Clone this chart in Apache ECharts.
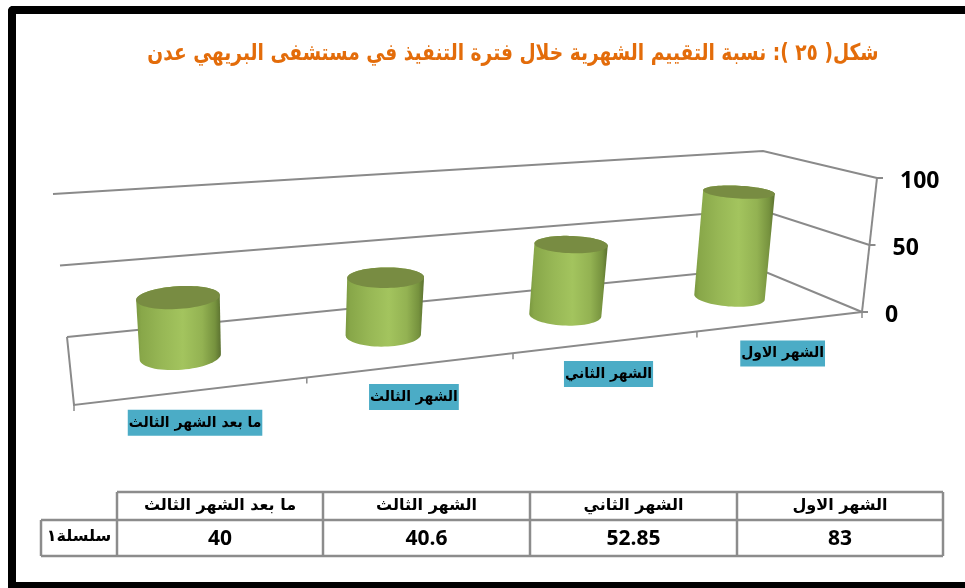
<!DOCTYPE html>
<html><head><meta charset="utf-8">
<style>html,body{margin:0;padding:0;background:#fff}#main{width:965px;height:588px}</style>
<script src="https://cdn.jsdelivr.net/npm/echarts@6/dist/echarts.min.js"></script>
</head><body><div id="main" dir="rtl"></div>
<script>
var titleText = 'شكل( ٢٥ ): نسبة التقييم الشهرية خلال فترة التنفيذ في مستشفى البريهي عدن';
var categories = ['الشهر الاول', 'الشهر الثاني', 'الشهر الثالث', 'ما بعد الشهر الثالث'];
var seriesValues = [83, 52.85, 40.6, 40];
var valueLabels = ['83', '52.85', '40.6', '40'];
var seriesName = 'سلسلة١';
var yTicks = [0, 50, 100];

var AR = '"DejaVu Sans"', NUM = '"Open Sans"';
var GRID = {left: 74, top: 178, width: 788, height: 134};
var floorC = [[74, 405], [862, 312], [756, 268], [67, 337]];
var topC = [[58, 239], [877, 178], [763, 151], [53, 194]];
var GRIDLINE = '#8a8a8a';

function homography(c) {
  var x0=c[0][0],y0=c[0][1],x1=c[1][0],y1=c[1][1],x2=c[2][0],y2=c[2][1],x3=c[3][0],y3=c[3][1];
  var dx1=x1-x2,dx2=x3-x2,sx=x0-x1+x2-x3,dy1=y1-y2,dy2=y3-y2,sy=y0-y1+y2-y3;
  var den=dx1*dy2-dx2*dy1;
  var g=(sx*dy2-dx2*sy)/den,h=(dx1*sy-sx*dy1)/den;
  var a=x1-x0+g*x1,b=x3-x0+h*x3,d=y1-y0+g*y1,e=y3-y0+h*y3;
  return function(u,v){var w=g*u+h*v+1;return [(a*u+b*v+x0)/w,(d*u+e*v+y0)/w];};
}
var Hf = homography(floorC), Ht = homography(topC);
function proj(u, v, d) {
  var a = Hf(u, d), b = Ht(u, d);
  return [a[0] + (b[0]-a[0])*v, a[1] + (b[1]-a[1])*v];
}
function norm(p) {
  return [(p[0]-GRID.left)/GRID.width, (GRID.top+GRID.height-p[1])/GRID.height];
}
function hull(pts) {
  pts = pts.slice().sort(function(a,b){return a[0]-b[0]||a[1]-b[1];});
  function cross(o,a,b){return (a[0]-o[0])*(b[1]-o[1])-(a[1]-o[1])*(b[0]-o[0]);}
  var lo=[],up=[],i;
  for(i=0;i<pts.length;i++){while(lo.length>1&&cross(lo[lo.length-2],lo[lo.length-1],pts[i])<=0)lo.pop();lo.push(pts[i]);}
  for(i=pts.length-1;i>=0;i--){while(up.length>1&&cross(up[up.length-2],up[up.length-1],pts[i])<=0)up.pop();up.push(pts[i]);}
  lo.pop();up.pop();return lo.concat(up);
}
function line(points, w) {
  return {type:'polyline',shape:{points:points},style:{stroke:GRIDLINE,lineWidth:w||2,fill:null},silent:true};
}

function renderWalls(params, api) {
  var tick = api.value(1);
  var v = norm(api.coord([0, tick]))[1];
  var kids = [line([proj(0,v,1), proj(1,v,1), proj(1,v,0)])];
  var fr = proj(1,v,0);
  kids.push(line([fr, [fr[0]+6, fr[1]]]));
  kids.push({type:'text',style:{text:String(tick),x:fr[0]+23,y:fr[1]+3,align:'left',verticalAlign:'middle',
    font:'bold 23px '+NUM,fill:'#000'}});
  return {type:'group',children:kids};
}
function renderFrame(params, api) {
  var kids = [line([proj(0,0,1), proj(0,0,0), proj(1,0,0)]), line([proj(1,0,0), proj(1,1,0)])];
  var n = categories.length;
  for (var i = 0; i <= n; i++) {
    var p = proj(i/n, 0, 0);
    kids.push(line([p, [p[0], p[1]+6]], 1.5));
  }
  return {type:'group',children:kids};
}
function renderCylinder(params, api) {
  var c = norm(api.coord([api.value(0), api.value(1)]));
  var u = c[0], v = c[1]*0.985, ru = 0.047, rd = 0.2, dc = 0.5;
  var bot = [], top = [];
  for (var a = 0; a < 72; a++) {
    var t = a/72*Math.PI*2, uu = u+ru*Math.cos(t), dd = dc+rd*Math.sin(t);
    bot.push(proj(uu,0,dd)); top.push(proj(uu,v,dd));
  }
  return {type:'group',children:[
    {type:'polygon',shape:{points:hull(bot.concat(top))},style:{fill:{type:'linear',x:0,y:0,x2:1,y2:0,colorStops:[
      {offset:0,color:'#7a9840'},{offset:0.06,color:'#88a749'},{offset:0.3,color:'#97b755'},{offset:0.55,color:'#a3c45e'},
      {offset:0.78,color:'#93b252'},{offset:0.93,color:'#76923e'},{offset:1,color:'#5b7130'}]}}},
    {type:'polygon',shape:{points:top},style:{fill:'#788c42'}}
  ]};
}
function renderCatLabel(params, api) {
  var x = norm(api.coord([api.value(0), 0]))[0];
  var p = proj(x,0,0);
  return {type:'text',x:p[0]+1,y:p[1]+32,scaleX:0.93,style:{text:categories[api.value(0)],align:'center',verticalAlign:'middle',
    font:'bold 15px '+AR,fill:'#000',backgroundColor:'#4bacc6',padding:[6,1,5,1]}};
}

// data table and frame (page furniture, layout only)
var colX = [943, 737, 530, 323, 117], rowY = [492, 520, 556], headX = 41;
var TB = '#8c8c8c';
var graphics = [
  {type:'rect',shape:{x:8,y:6,width:957,height:8,r:[5,0,0,0]},style:{fill:'#000'}},
  {type:'rect',shape:{x:8,y:6,width:8,height:582,r:[5,0,0,0]},style:{fill:'#000'}},
  {type:'rect',shape:{x:8,y:582,width:957,height:6},style:{fill:'#000'}},
  {type:'text',x:513,y:54,scaleX:0.81,style:{text:titleText,align:'center',verticalAlign:'middle',font:'bold 23px '+AR,fill:'#e36c0a',
    shadowColor:'rgba(110,55,0,0.6)',shadowBlur:2,shadowOffsetX:1,shadowOffsetY:2}}
];
function tLine(x1,y1,x2,y2){graphics.push({type:'line',shape:{x1:x1,y1:y1,x2:x2,y2:y2},style:{stroke:TB,lineWidth:2.5}});}
rowY.forEach(function(y,i){tLine(i===0?colX[4]:headX,y,colX[0],y);});
colX.forEach(function(x){tLine(x,rowY[0],x,rowY[2]);});
tLine(headX,rowY[1],headX,rowY[2]);
categories.forEach(function(cat,i){
  var cx=(colX[i]+colX[i+1])/2;
  graphics.push({type:'text',x:cx,y:(rowY[0]+rowY[1])/2,style:{text:cat,align:'center',verticalAlign:'middle',font:'bold 16px '+AR,fill:'#000'}});
  graphics.push({type:'text',x:cx,y:(rowY[1]+rowY[2])/2+1,style:{text:valueLabels[i],align:'center',verticalAlign:'middle',font:'bold 21px '+NUM,fill:'#000'}});
});
graphics.push({type:'text',x:(headX+colX[4])/2,y:(rowY[1]+rowY[2])/2-1,style:{text:seriesName,align:'center',verticalAlign:'middle',font:'bold 16px '+AR,fill:'#000'}});

var chart = echarts.init(document.getElementById('main'), null, {renderer:'canvas'});
chart.setOption({
  animation:false,
  backgroundColor:'#fff',
  graphic:graphics,
  grid:GRID,
  xAxis:{type:'category',data:categories,inverse:true,show:false},
  yAxis:{type:'value',min:0,max:100,interval:50,show:false},
  series:[
    {type:'custom',name:'walls',z:1,silent:true,renderItem:renderWalls,clip:false,
      data:yTicks.map(function(t){return [0,t];}),encode:{x:0,y:1}},
    {type:'custom',name:'frame',z:1,silent:true,renderItem:renderFrame,clip:false,data:[[0,0]],encode:{x:0,y:1}},
    {type:'custom',name:seriesName,z:3,renderItem:renderCylinder,clip:false,
      data:seriesValues.map(function(v,i){return [i,v];}),encode:{x:0,y:1}},
    {type:'custom',name:'labels',z:4,silent:true,renderItem:renderCatLabel,clip:false,
      data:categories.map(function(c,i){return [i,0];}),encode:{x:0,y:1}}
  ]
});
</script></body></html>
